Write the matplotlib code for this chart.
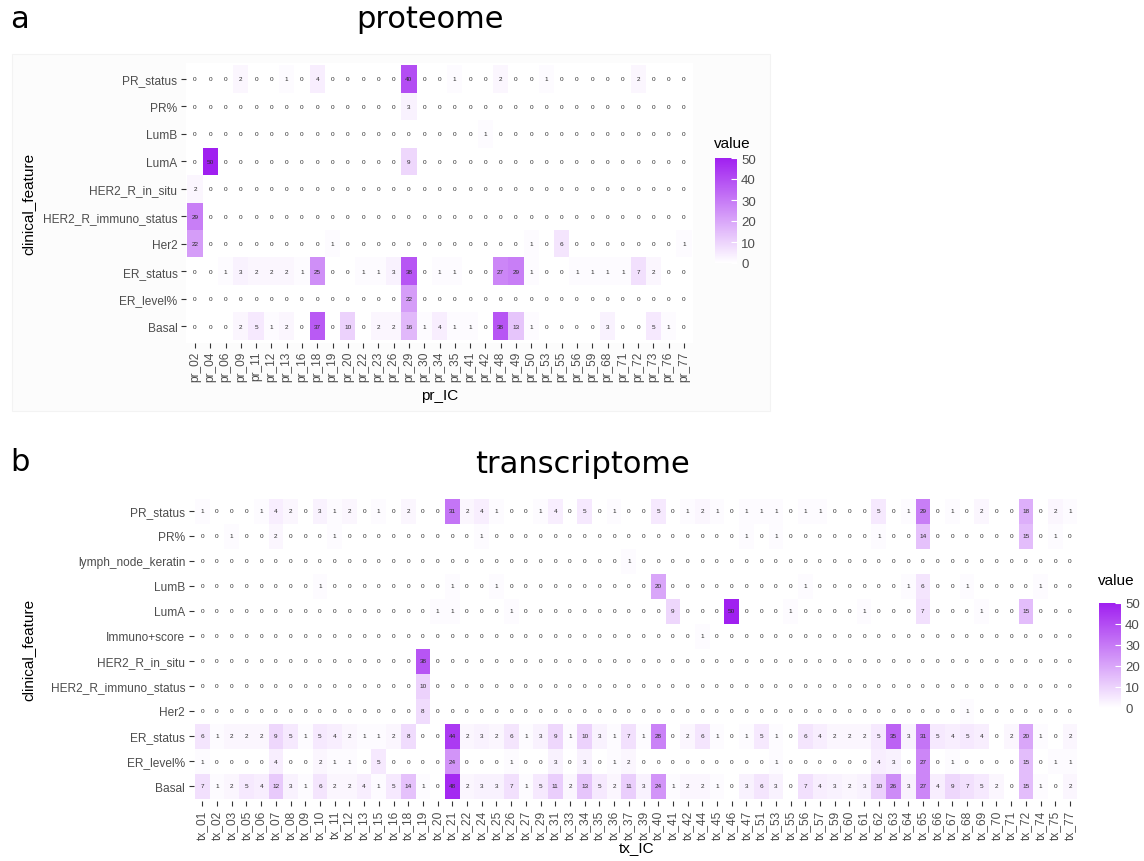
import numpy as np
import matplotlib.pyplot as plt
from matplotlib.colors import LinearSegmentedColormap
from matplotlib.patches import Rectangle

W, H = 1144, 862

# proteome
pr_ic = ["pr_02", "pr_04", "pr_06", "pr_09", "pr_11", "pr_12", "pr_13", "pr_16", "pr_18",
         "pr_19", "pr_20", "pr_22", "pr_23", "pr_26", "pr_29", "pr_30", "pr_34", "pr_35",
         "pr_41", "pr_42", "pr_48", "pr_49", "pr_50", "pr_53", "pr_55", "pr_56", "pr_59",
         "pr_68", "pr_71", "pr_72", "pr_73", "pr_76", "pr_77"]
pr_features = ["PR_status", "PR%", "LumB", "LumA", "HER2_R_in_situ",
               "HER2_R_immuno_status", "Her2", "ER_status", "ER_level%", "Basal"]
pr_values = [
    [0, 0, 0, 2, 0, 0, 1, 0, 4, 0, 0, 0, 0, 0, 40, 0, 0, 1, 0, 0, 2, 0, 0, 1, 0, 0, 0, 0, 0, 2, 0, 0, 0],
    [0, 0, 0, 0, 0, 0, 0, 0, 0, 0, 0, 0, 0, 0, 3, 0, 0, 0, 0, 0, 0, 0, 0, 0, 0, 0, 0, 0, 0, 0, 0, 0, 0],
    [0, 0, 0, 0, 0, 0, 0, 0, 0, 0, 0, 0, 0, 0, 0, 0, 0, 0, 0, 1, 0, 0, 0, 0, 0, 0, 0, 0, 0, 0, 0, 0, 0],
    [0, 50, 0, 0, 0, 0, 0, 0, 0, 0, 0, 0, 0, 0, 9, 0, 0, 0, 0, 0, 0, 0, 0, 0, 0, 0, 0, 0, 0, 0, 0, 0, 0],
    [2, 0, 0, 0, 0, 0, 0, 0, 0, 0, 0, 0, 0, 0, 0, 0, 0, 0, 0, 0, 0, 0, 0, 0, 0, 0, 0, 0, 0, 0, 0, 0, 0],
    [29, 0, 0, 0, 0, 0, 0, 0, 0, 0, 0, 0, 0, 0, 0, 0, 0, 0, 0, 0, 0, 0, 0, 0, 0, 0, 0, 0, 0, 0, 0, 0, 0],
    [22, 0, 0, 0, 0, 0, 0, 0, 0, 1, 0, 0, 0, 0, 0, 0, 0, 0, 0, 0, 0, 0, 1, 0, 6, 0, 0, 0, 0, 0, 0, 0, 1],
    [0, 0, 1, 3, 2, 2, 2, 1, 25, 0, 0, 1, 1, 3, 38, 0, 1, 1, 0, 0, 27, 29, 1, 0, 0, 1, 1, 1, 1, 7, 2, 0, 0],
    [0, 0, 0, 0, 0, 0, 0, 0, 0, 0, 0, 0, 0, 0, 22, 0, 0, 0, 0, 0, 0, 0, 0, 0, 0, 0, 0, 0, 0, 0, 0, 0, 0],
    [0, 0, 0, 2, 5, 1, 2, 0, 37, 0, 10, 0, 2, 2, 16, 1, 4, 1, 1, 0, 38, 13, 1, 0, 0, 0, 0, 3, 0, 0, 5, 1, 0],
]

# transcriptome
tx_ic = ["tx_01", "tx_02", "tx_03", "tx_05", "tx_06", "tx_07", "tx_08", "tx_09", "tx_10", "tx_11",
         "tx_12", "tx_13", "tx_15", "tx_16", "tx_18", "tx_19", "tx_20", "tx_21", "tx_22", "tx_24",
         "tx_25", "tx_26", "tx_27", "tx_29", "tx_31", "tx_33", "tx_34", "tx_35", "tx_36", "tx_37",
         "tx_39", "tx_40", "tx_41", "tx_42", "tx_44", "tx_45", "tx_46", "tx_47", "tx_51", "tx_53",
         "tx_55", "tx_56", "tx_57", "tx_59", "tx_60", "tx_61", "tx_62", "tx_63", "tx_64", "tx_65",
         "tx_66", "tx_67", "tx_68", "tx_69", "tx_70", "tx_71", "tx_72", "tx_74", "tx_75", "tx_77"]
tx_features = ["PR_status", "PR%", "lymph_node_keratin", "LumB", "LumA", "Immuno+score",
               "HER2_R_in_situ", "HER2_R_immuno_status", "Her2", "ER_status", "ER_level%", "Basal"]
tx_values = [
    [1, 0, 0, 0, 1, 4, 2, 0, 3, 1, 2, 0, 1, 0, 2, 0, 0, 31, 2, 4, 1, 0, 0, 1, 4, 0, 5, 0, 1, 0,
     0, 5, 0, 1, 2, 1, 0, 1, 1, 1, 0, 1, 1, 0, 0, 0, 5, 0, 1, 29, 0, 1, 0, 2, 0, 0, 18, 0, 2, 1],
    [0, 0, 1, 0, 0, 2, 0, 0, 0, 1, 0, 0, 0, 0, 0, 0, 0, 0, 0, 1, 0, 0, 0, 0, 0, 0, 0, 0, 0, 0,
     0, 0, 0, 0, 0, 0, 0, 1, 0, 1, 0, 0, 0, 0, 0, 0, 1, 0, 0, 14, 0, 0, 0, 0, 0, 0, 15, 0, 1, 0],
    [0, 0, 0, 0, 0, 0, 0, 0, 0, 0, 0, 0, 0, 0, 0, 0, 0, 0, 0, 0, 0, 0, 0, 0, 0, 0, 0, 0, 0, 1,
     0, 0, 0, 0, 0, 0, 0, 0, 0, 0, 0, 0, 0, 0, 0, 0, 0, 0, 0, 0, 0, 0, 0, 0, 0, 0, 0, 0, 0, 0],
    [0, 0, 0, 0, 0, 0, 0, 0, 1, 0, 0, 0, 0, 0, 0, 0, 0, 1, 0, 0, 1, 0, 0, 0, 0, 0, 0, 0, 0, 0,
     0, 20, 0, 0, 0, 0, 0, 0, 0, 0, 0, 1, 0, 0, 0, 0, 0, 0, 1, 6, 0, 0, 1, 0, 0, 0, 0, 1, 0, 0],
    [0, 0, 0, 0, 0, 0, 0, 0, 0, 0, 0, 0, 0, 0, 0, 0, 1, 1, 0, 0, 0, 1, 0, 0, 0, 0, 0, 0, 0, 0,
     0, 0, 9, 0, 0, 0, 50, 0, 0, 0, 1, 0, 0, 0, 0, 1, 0, 0, 0, 7, 0, 0, 0, 1, 0, 0, 15, 0, 0, 0],
    [0, 0, 0, 0, 0, 0, 0, 0, 0, 0, 0, 0, 0, 0, 0, 0, 0, 0, 0, 0, 0, 0, 0, 0, 0, 0, 0, 0, 0, 0,
     0, 0, 0, 0, 1, 0, 0, 0, 0, 0, 0, 0, 0, 0, 0, 0, 0, 0, 0, 0, 0, 0, 0, 0, 0, 0, 0, 0, 0, 0],
    [0, 0, 0, 0, 0, 0, 0, 0, 0, 0, 0, 0, 0, 0, 0, 38, 0, 0, 0, 0, 0, 0, 0, 0, 0, 0, 0, 0, 0, 0,
     0, 0, 0, 0, 0, 0, 0, 0, 0, 0, 0, 0, 0, 0, 0, 0, 0, 0, 0, 0, 0, 0, 0, 0, 0, 0, 0, 0, 0, 0],
    [0, 0, 0, 0, 0, 0, 0, 0, 0, 0, 0, 0, 0, 0, 0, 10, 0, 0, 0, 0, 0, 0, 0, 0, 0, 0, 0, 0, 0, 0,
     0, 0, 0, 0, 0, 0, 0, 0, 0, 0, 0, 0, 0, 0, 0, 0, 0, 0, 0, 0, 0, 0, 0, 0, 0, 0, 0, 0, 0, 0],
    [0, 0, 0, 0, 0, 0, 0, 0, 0, 0, 0, 0, 0, 0, 0, 8, 0, 0, 0, 0, 0, 0, 0, 0, 0, 0, 0, 0, 0, 0,
     0, 0, 0, 0, 0, 0, 0, 0, 0, 0, 0, 0, 0, 0, 0, 0, 0, 0, 0, 0, 0, 0, 1, 0, 0, 0, 0, 0, 0, 0],
    [6, 1, 2, 2, 2, 9, 5, 1, 5, 4, 2, 1, 1, 2, 8, 0, 0, 44, 2, 3, 2, 6, 1, 3, 9, 1, 10, 3, 1, 7,
     1, 28, 0, 2, 6, 1, 0, 1, 5, 1, 0, 6, 4, 2, 2, 2, 5, 35, 3, 31, 5, 4, 5, 4, 0, 2, 20, 1, 0, 2],
    [1, 0, 0, 0, 0, 4, 0, 0, 2, 1, 1, 0, 5, 0, 0, 0, 0, 24, 0, 0, 0, 1, 0, 0, 3, 0, 3, 0, 1, 2,
     0, 0, 0, 0, 0, 0, 0, 0, 0, 1, 0, 0, 0, 0, 0, 0, 4, 3, 0, 27, 0, 1, 0, 0, 0, 0, 15, 0, 1, 1],
    [7, 1, 2, 5, 4, 12, 3, 1, 6, 2, 2, 4, 1, 5, 14, 1, 0, 48, 2, 3, 3, 7, 1, 5, 11, 2, 13, 5, 2, 11,
     3, 24, 1, 2, 2, 1, 0, 3, 6, 3, 0, 7, 4, 3, 2, 3, 10, 26, 3, 27, 4, 9, 7, 5, 2, 0, 15, 1, 0, 2],
]

plt.rcParams['font.family'] = ['Liberation Sans', 'DejaVu Sans']
cmap = LinearSegmentedColormap.from_list("wp", ["#FFFFFF", "#A020F0"])


def add_px_axes(fig, x0, y0, x1, y1):
    return fig.add_axes([x0 / W, 1 - y1 / H, (x1 - x0) / W, (y1 - y0) / H])


def heatmap(fig, box, values, xlabels, ylabels, xname, cbox, title_xy, xpad):
    ax = add_px_axes(fig, *box)
    data = np.array(values)
    mesh = ax.pcolormesh(data, cmap=cmap, vmin=0, vmax=50)
    # ggplot style discrete padding round the tiles
    ax.set_xlim(-0.1, data.shape[1] + 0.1)
    ax.set_ylim(data.shape[0] + 0.1, -0.1)
    for i in range(data.shape[0]):
        for j in range(data.shape[1]):
            ax.text(j + 0.5, i + 0.5, str(data[i, j]), ha='center', va='center',
                    fontsize=4.6, color='#2a2a2a')
    ax.set_xticks(np.arange(data.shape[1]) + 0.5)
    ax.set_xticklabels(xlabels, rotation=90, fontsize=8.6, color='#4d4d4d')
    ax.set_yticks(np.arange(data.shape[0]) + 0.5)
    ax.set_yticklabels(ylabels, fontsize=8.6, color='#4d4d4d')
    ax.tick_params(length=3.5, width=0.8, color='#333333', pad=2.5)
    for s in ax.spines.values():
        s.set_visible(False)
    ax.set_xlabel(xname, fontsize=11, labelpad=xpad)
    ax.set_ylabel("clinical_feature", fontsize=11)

    cax = add_px_axes(fig, *cbox)
    cb = fig.colorbar(mesh, cax=cax, ticks=[0, 10, 20, 30, 40, 50])
    cb.outline.set_visible(False)
    cb.ax.tick_params(length=4, width=0.8, color='white', direction='in', labelsize=9.5,
                      labelcolor='#4d4d4d', pad=3)
    fig.text(title_xy[0] / W, 1 - title_xy[1] / H, "value", fontsize=11, va='center')
    return ax


fig = plt.figure(figsize=(W / 100, H / 100), dpi=100)

fig.patches.append(Rectangle((12 / W, 1 - 412 / H), (770 - 12) / W, (412 - 55) / H,
                             transform=fig.transFigure, facecolor='#fcfcfc',
                             edgecolor='#f3f3f3', linewidth=0.8, zorder=-1))

ax1 = heatmap(fig, (185.8, 63.5, 693.2, 343.5), pr_values, pr_ic, pr_features, "pr_IC",
              (715, 159, 737, 264), (714, 144), 5)
ax1.yaxis.set_label_coords(-0.297, 0.5)
ax2 = heatmap(fig, (193.5, 497, 1078.8, 802), tx_values, tx_ic, tx_features, "tx_IC",
              (1099, 604, 1121, 709), (1098, 581), 1)
ax2.yaxis.set_label_coords(-0.179, 0.5)

fig.text(10 / W, 1 - 20 / H, "a", fontsize=22, va='center', family='DejaVu Sans')
fig.text(430 / W, 1 - 20 / H, "proteome", fontsize=22, ha='center', va='center',
         family='DejaVu Sans')
fig.text(10 / W, 1 - 463 / H, "b", fontsize=22, va='center', family='DejaVu Sans')
fig.text(583 / W, 1 - 465 / H, "transcriptome", fontsize=22, ha='center', va='center',
         family='DejaVu Sans')

fig.savefig("out.png", dpi=100)
